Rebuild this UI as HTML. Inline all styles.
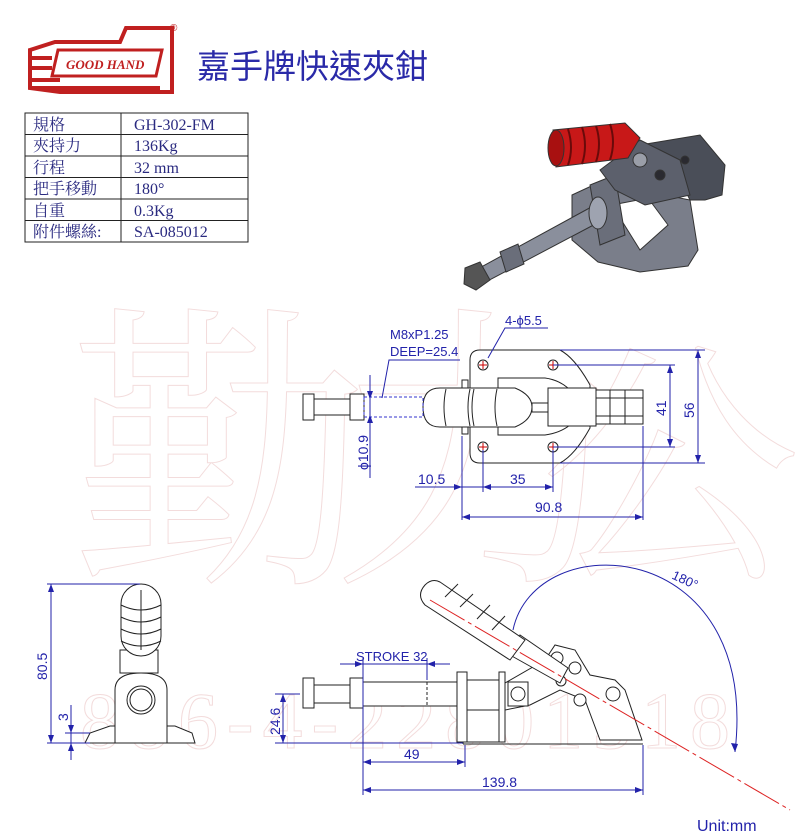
<!DOCTYPE html>
<html><head><meta charset="utf-8"><style>
html,body{margin:0;padding:0;background:#fff;}
svg{display:block;}
</style></head><body>
<svg width="800" height="837" viewBox="0 0 800 837" xmlns="http://www.w3.org/2000/svg" font-family="Liberation Sans, DejaVu Sans, sans-serif">
<!-- watermark -->
<g fill="none" stroke="#f3dcdc" stroke-width="1">
<text x="70" y="560" font-size="300" font-family="Noto Serif CJK SC, serif">勤</text>
<text x="330" y="560" font-size="300" font-family="Noto Serif CJK SC, serif">力</text>
<text x="540" y="560" font-size="260" font-family="Noto Serif CJK SC, serif">公</text>
<text x="80" y="748" font-size="80" font-family="Liberation Serif, serif" textLength="650">886-4-22801518</text>
</g>
<!-- logo -->
<g>
<path d="M30 50 L55 42 L120 42 L126 28 L172 28 L172 92 L60 92 L30 88 Z" fill="#fff" stroke="#c02020" stroke-width="4"/>
<path d="M58 50 L162 50 L156 76 L52 76 Z" fill="#fff" stroke="#c02020" stroke-width="3"/>
<path d="M30 58 L52 58 M30 68 L52 68 M30 80 L60 80 M30 88 L160 88" stroke="#c02020" stroke-width="4"/>
<text x="66" y="69" font-family="Liberation Serif, serif" font-style="italic" font-weight="bold" font-size="13" fill="#c02020">GOOD HAND</text>
<text x="170" y="31" font-size="10" fill="#c02020">®</text>
</g>
<text x="197" y="78" font-family="Liberation Sans, Noto Sans CJK TC, sans-serif" font-size="33" fill="#2a2aa8">嘉手牌快速夾鉗</text>
<!-- table -->
<g stroke="#222" stroke-width="1" fill="none">
<rect x="25" y="113" width="223" height="129"/>
<line x1="121" y1="113" x2="121" y2="242"/>
<line x1="25" y1="134.5" x2="248" y2="134.5"/>
<line x1="25" y1="156" x2="248" y2="156"/>
<line x1="25" y1="177.5" x2="248" y2="177.5"/>
<line x1="25" y1="199" x2="248" y2="199"/>
<line x1="25" y1="220.5" x2="248" y2="220.5"/>
</g>
<g font-family="Liberation Serif, Noto Serif CJK SC, serif" font-size="16" fill="#2a2a80">
<text x="33" y="130">規格</text><text x="134" y="130">GH-302-FM</text>
<text x="33" y="151">夾持力</text><text x="134" y="151">136Kg</text>
<text x="33" y="173">行程</text><text x="134" y="173">32 mm</text>
<text x="33" y="194">把手移動</text><text x="134" y="194">180°</text>
<text x="33" y="216">自重</text><text x="134" y="216">0.3Kg</text>
<text x="33" y="237">附件螺絲:</text><text x="134" y="237">SA-085012</text>
</g>
<!-- 3D view -->
<g stroke="#333" stroke-width="1">
<path d="M572 195 L600 182 L690 200 L698 250 L688 266 L640 272 L598 262 L572 240 Z" fill="#7a7e8a"/>
<path d="M612 205 L648 198 L668 225 L640 250 Z" fill="#fff"/>
<path d="M590 185 L615 175 L625 235 L600 245 Z" fill="#6a6e7a"/>
<path d="M640 145 L700 135 L725 165 L722 195 L705 200 L690 200 L680 180 L650 165 Z" fill="#4a4e58"/>
<path d="M600 170 L640 140 L680 160 L690 195 L645 205 L615 190 Z" fill="#5c606c"/>
<circle cx="640" cy="160" r="7" fill="#9a9ea8"/>
<circle cx="660" cy="175" r="5" fill="#2a2a30"/>
<circle cx="685" cy="160" r="4" fill="#2a2a30"/>
<path d="M595 205 L472 272 L480 285 L603 220 Z" fill="#8a8f9c"/>
<ellipse cx="598" cy="213" rx="9" ry="16" fill="#9ea3b0"/>
<path d="M500 252 L518 244 L524 264 L506 272 Z" fill="#6a6e7a"/>
<path d="M465 268 L480 262 L490 280 L476 290 L464 284 Z" fill="#555"/>
<path d="M553 130 L625 123 L640 138 L628 158 L556 167 Z" fill="#c81818"/>
<ellipse cx="556" cy="148" rx="8" ry="18" fill="#a81010"/>
<g stroke="#6a0a0a" stroke-width="2" fill="none"><path d="M568 129 Q574 148 568 165 M582 127 Q588 146 582 164 M596 126 Q602 144 596 162 M610 124 Q616 142 610 160"/></g>
</g>
<!-- top view drawing -->
<g stroke="#222" stroke-width="1" fill="#fff">
<path d="M470 360 Q470 350 480 350 L560 350 Q575 358 590 385 L590 428 Q575 455 560 463 L480 463 Q470 463 470 453 Z"/>
<path d="M498 378 L545 378 Q560 380 570 390 L570 425 Q560 433 545 435 L498 435 Z"/>
<rect x="462" y="380" width="6" height="54"/>
<rect x="303" y="394" width="11" height="26"/>
<rect x="314" y="399" width="36" height="16"/>
<rect x="350" y="394" width="14" height="26"/>
<rect x="532" y="403" width="18" height="9"/>
<rect x="548" y="388" width="48" height="38"/>
<rect x="596" y="390" width="47" height="34"/>
<path d="M423 407 Q423 388 440 388 L515 388 Q532 395 532 407 Q532 420 515 427 L440 427 Q423 427 423 407 Z"/>
<path d="M446 389 Q442 407 446 426 M470 389 Q466 407 470 426 M474 389 Q470 407 474 426 M497 389 Q493 407 497 426" fill="none"/>
<line x1="596" y1="398" x2="643" y2="398"/><line x1="596" y1="416" x2="643" y2="416"/>
<line x1="610" y1="390" x2="610" y2="424"/><line x1="625" y1="390" x2="625" y2="424"/>
</g>
<rect x="364" y="397" width="59" height="20" fill="none" stroke="#33c" stroke-dasharray="3,2"/>
<g stroke="#c00" stroke-width="1">
<circle cx="483" cy="365" r="5" fill="none" stroke="#222"/><circle cx="553" cy="365" r="5" fill="none" stroke="#222"/>
<circle cx="483" cy="447" r="5" fill="none" stroke="#222"/><circle cx="553" cy="447" r="5" fill="none" stroke="#222"/>
<path d="M479 365h8M483 361v8M549 365h8M553 361v8M479 447h8M483 443v8M549 447h8M553 443v8"/>
</g>
<!-- dims top view -->
<g stroke="#22a" stroke-width="1" fill="none">
<line x1="560" y1="350" x2="705" y2="350"/><line x1="560" y1="463" x2="705" y2="463"/>
<line x1="698" y1="350" x2="698" y2="463"/>
<line x1="553" y1="365" x2="675" y2="365"/><line x1="553" y1="447" x2="675" y2="447"/>
<line x1="670" y1="365" x2="670" y2="447"/>
<line x1="462" y1="436" x2="462" y2="520"/><line x1="483" y1="450" x2="483" y2="492"/>
<line x1="553" y1="450" x2="553" y2="492"/><line x1="643" y1="426" x2="643" y2="520"/>
<line x1="415" y1="487" x2="553" y2="487"/>
<line x1="462" y1="517" x2="643" y2="517"/>
<line x1="370" y1="375" x2="370" y2="478"/>
<polyline points="382,398 389,360 460,360"/>
<polyline points="488,358 505,328 548,328"/>
</g>
<g fill="#22a">
<path d="M698 350l-3 8h6zM698 463l-3-8h6zM670 365l-3 8h6zM670 447l-3-8h6zM462 487l-8-3v6zM483 487l8-3v6zM553 487l-8-3v6zM462 517l8-3v6zM643 517l-8-3v6zM370 399l-3-8h6zM370 415l3 8h-6z"/>
</g>
<g fill="#22a" font-size="14">
<text x="390" y="339" font-size="13">M8xP1.25</text>
<text x="390" y="356" font-size="13">DEEP=25.4</text>
<text x="505" y="325" font-size="13">4-ϕ5.5</text>
<text x="418" y="484">10.5</text>
<text x="510" y="484">35</text>
<text x="535" y="512">90.8</text>
<text transform="translate(666 416) rotate(-90)">41</text>
<text transform="translate(694 418) rotate(-90)">56</text>
<text transform="translate(368 470) rotate(-90)">ϕ10.9</text>
</g>
<!-- front view -->
<g stroke="#222" stroke-width="1" fill="#fff">
<path d="M85 743 L90 733 L110 726 L175 726 L192 733 L195 743 Z"/>
<path d="M115 743 L115 690 Q115 673 141 673 Q167 673 167 690 L167 743 Z"/>
<circle cx="141" cy="700" r="14"/><circle cx="141" cy="700" r="11"/>
<rect x="120" y="650" width="38" height="23"/>
<rect x="121" y="584" width="40" height="72" rx="20"/>
<path d="M121 605 Q141 615 161 605 M121 617 Q141 627 161 617 M121 629 Q141 639 161 629 M121 641 Q141 651 161 641" fill="none"/>
<line x1="141" y1="590" x2="141" y2="650"/>
</g>
<g stroke="#22a" fill="none">
<line x1="47" y1="584" x2="140" y2="584"/><line x1="47" y1="743" x2="90" y2="743"/><line x1="65" y1="733" x2="90" y2="733"/>
<line x1="51" y1="584" x2="51" y2="743"/><line x1="71" y1="705" x2="71" y2="760"/>
</g>
<g fill="#22a"><path d="M51 584l-3 8h6zM51 743l-3-8h6zM71 733l-3-8h6zM71 743l-3 8h6z"/>
<text transform="translate(47 680) rotate(-90)" font-size="14">80.5</text>
<text transform="translate(68 721) rotate(-90)" font-size="14">3</text></g>
<!-- side view -->
<path d="M513 630 C535 525 760 535 735 752" fill="none" stroke="#22a"/>
<path d="M735 752l-4-9 7 1z" fill="#22a"/>
<text x="672" y="582" font-size="13" fill="#22a" transform="rotate(25 680 578)">180°</text>
<g stroke="#222" stroke-width="1" fill="#fff">
<path d="M463 744 L463 742 L505 742 L505 710 L530 705 L560 690 L585 700 L600 740 L642 740 L625 690 L615 680 L590 675 L575 650 L555 645 L545 660 L505 683 L463 683 Z"/>
<line x1="463" y1="744" x2="643" y2="744"/>
<rect x="457" y="672" width="10" height="70"/>
<rect x="467" y="680" width="33" height="30"/>
<rect x="499" y="672" width="6" height="70"/>
<rect x="508" y="682" width="20" height="24"/><circle cx="518" cy="694" r="7"/>
<rect x="303" y="678" width="11" height="30"/>
<rect x="314" y="685" width="36" height="18"/>
<rect x="350" y="678" width="13" height="30"/>
<rect x="363" y="682" width="94" height="24"/>
<circle cx="557" cy="658" r="6"/><circle cx="575" cy="668" r="6"/><circle cx="561" cy="681" r="5"/><circle cx="580" cy="700" r="6"/><circle cx="613" cy="694" r="7"/>
<path d="M510 655 L560 683 L568 668 L520 635 Z"/>
<path d="M425 585 Q416 595 425 605 L510 660 L525 640 L440 582 Q432 578 425 585 Z"/>
<path d="M445 597 L458 584 M460 607 L473 594 M477 619 L490 605 M492 630 L505 616" fill="none"/>
</g>
<line x1="427" y1="682" x2="427" y2="706" stroke="#222" stroke-dasharray="3,2"/>
<line x1="430" y1="600" x2="790" y2="810" stroke="#d22" stroke-dasharray="40,4,4,4"/>
<g stroke="#22a" fill="none">
<line x1="275" y1="694" x2="300" y2="694"/><line x1="275" y1="743" x2="463" y2="743"/>
<line x1="283" y1="694" x2="283" y2="743"/>
<line x1="363" y1="658" x2="363" y2="795"/><line x1="427" y1="658" x2="427" y2="680"/>
<line x1="340" y1="664" x2="450" y2="664"/>
<line x1="465" y1="745" x2="465" y2="767"/><line x1="643" y1="745" x2="643" y2="795"/>
<line x1="363" y1="762" x2="465" y2="762"/><line x1="363" y1="790" x2="643" y2="790"/>
</g>
<g fill="#22a">
<path d="M283 694l-3 8h6zM283 743l-3-8h6zM363 664l-8-3v6zM427 664l8-3v6zM363 762l8-3v6zM465 762l-8-3v6zM363 790l8-3v6zM643 790l-8-3v6z"/>
<text x="356" y="661" font-size="13">STROKE 32</text>
<text transform="translate(280 735) rotate(-90)" font-size="14">24.6</text>
<text x="404" y="759" font-size="14">49</text>
<text x="482" y="787" font-size="14">139.8</text>
<text x="697" y="831" font-size="16">Unit:mm</text>
</g>
</svg>
</body></html>
